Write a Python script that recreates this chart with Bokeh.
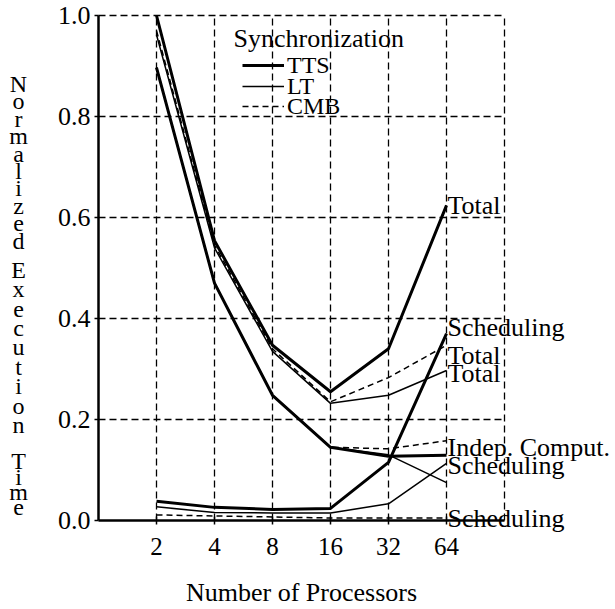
from bokeh.plotting import figure
from bokeh.models import (Range1d, FixedTicker, Label, Legend, LegendItem,
                          PrintfTickFormatter, BoxAnnotation)
from bokeh.embed import file_html
from bokeh.resources import INLINE

# ---------------- data ----------------
processors = ["2", "4", "8", "16", "32", "64"]

tts_total = [1.000, 0.554, 0.347, 0.255, 0.340, 0.624]
lt_total = [0.962, 0.540, 0.335, 0.232, 0.248, 0.297]
cmb_total = [0.970, 0.545, 0.340, 0.235, 0.283, 0.347]

tts_indep = [0.897, 0.470, 0.248, 0.145, 0.127, 0.129]
lt_indep = [0.897, 0.470, 0.248, 0.145, 0.130, 0.075]
cmb_indep = [0.897, 0.470, 0.248, 0.145, 0.142, 0.158]

tts_sched = [0.038, 0.026, 0.022, 0.024, 0.115, 0.370]
lt_sched = [0.027, 0.016, 0.015, 0.015, 0.033, 0.113]
cmb_sched = [0.011, 0.009, 0.007, 0.005, 0.005, 0.005]

y_ticks = [0.0, 0.2, 0.4, 0.6, 0.8, 1.0]
legend_labels = ["TTS", "LT", "CMB"]

FONT = "Liberation Serif"

# ---------------- layout (pixels) ----------------
W, H = 613, 607
X0_PX, X_UNIT = 98, 58.0      # pixel of x=0, pixels per category step
Y0_PX, Y_UNIT = 520, 505.0    # pixel (from top) of y=0, pixels per 1.0

x = list(range(1, len(processors) + 1))
x_max = len(processors) + 1
y_max = y_ticks[-1]

p = figure(width=W, height=H, output_backend="svg", toolbar_location=None,
           x_range=Range1d(-X0_PX / X_UNIT, (W - X0_PX) / X_UNIT),
           y_range=Range1d(-(H - Y0_PX) / Y_UNIT, Y0_PX / Y_UNIT),
           min_border=0)
p.outline_line_color = None
p.background_fill_color = "white"
p.border_fill_color = "white"

# grid
p.xgrid.ticker = FixedTicker(ticks=x + [x_max])
p.ygrid.ticker = FixedTicker(ticks=y_ticks[1:])
for g in (p.xgrid, p.ygrid):
    g.grid_line_color = "black"
    g.grid_line_dash = "7 4"
    g.grid_line_width = 1.3
    g.grid_line_alpha = 1.0

if "cross_bounds" in p.xgrid.properties():
    p.xgrid.cross_bounds = (0, y_max)
    p.ygrid.cross_bounds = (0, x_max)
else:
    eps_x = 1.5 / X_UNIT
    eps_y = 1.5 / Y_UNIT
    for kw in (dict(right=0), dict(left=x_max + eps_x), dict(top=0),
               dict(bottom=y_max + eps_y)):
        p.add_layout(BoxAnnotation(fill_color="white", fill_alpha=1.0,
                                   line_color=None, level="underlay", **kw))

# axes
p.xaxis.fixed_location = 0
p.yaxis.fixed_location = 0
p.xaxis.bounds = (0, x_max)
p.yaxis.bounds = (0, y_max)

p.xaxis.ticker = FixedTicker(ticks=x)
p.xaxis.major_label_overrides = {xi: lab for xi, lab in zip(x, processors)}
p.xaxis.axis_line_width = 2.5
p.xaxis.major_tick_in = 4
p.xaxis.major_tick_out = 4
p.xaxis.major_tick_line_width = 1.5
p.xaxis.minor_tick_line_color = None
p.xaxis.major_label_standoff = 13
p.xaxis.major_label_text_font_size = "25px"

p.yaxis.ticker = FixedTicker(ticks=y_ticks)
p.yaxis.formatter = PrintfTickFormatter(format="%.1f")
p.yaxis.axis_line_width = 2.5
p.yaxis.major_tick_in = 0
p.yaxis.major_tick_out = 4
p.yaxis.major_tick_line_width = 1.5
p.yaxis.minor_tick_line_color = None
p.yaxis.major_label_standoff = 4
p.yaxis.major_label_text_font_size = "26px"

for ax in (p.xaxis, p.yaxis):
    ax.axis_line_color = "black"
    ax.major_tick_line_color = "black"
    ax.major_label_text_font = FONT
    ax.major_label_text_color = "black"

# lines
styles = {
    "TTS": dict(line_width=3.0, line_color="black"),
    "LT": dict(line_width=1.5, line_color="black"),
    "CMB": dict(line_width=1.5, line_color="black", line_dash="6 4"),
}
series = {
    "TTS": (tts_total, tts_indep, tts_sched),
    "LT": (lt_total, lt_indep, lt_sched),
    "CMB": (cmb_total, cmb_indep, cmb_sched),
}
legend_renderers = {}
for name in ["CMB", "LT", "TTS"]:
    for k, ys in enumerate(series[name]):
        r = p.line(x, ys, **styles[name])
        if k == 0:
            legend_renderers[name] = r


def text_label(txt, px, py, size, align="left"):
    """Label placed by its vertical centre, in pixels from the top-left."""
    return Label(x=px, y=H - py, x_units="screen", y_units="screen", text=txt,
                 text_align=align, text_baseline="middle", text_font=FONT,
                 text_font_size=f"{size}px", text_color="black")


# legend: title + one single-item legend per entry (tight spacing)
p.add_layout(text_label("Synchronization", 233, 38, 26))
ITEM_H = 30
for name, cy in zip(legend_labels, [65, 86, 106]):
    lg = Legend(items=[LegendItem(label=name, renderers=[legend_renderers[name]])],
                location=(242, H - cy - ITEM_H / 2),
                label_text_font=FONT, label_text_font_size="24px",
                label_text_color="black",
                glyph_width=42, glyph_height=ITEM_H, label_height=ITEM_H,
                label_standoff=3, spacing=0, padding=0, margin=0,
                border_line_color=None, background_fill_alpha=0)
    p.add_layout(lg)

# right-hand line labels: (text, line end value, vertical pixel offset)
end_labels = [
    ("Total", tts_total[-1], 0),
    ("Scheduling", tts_sched[-1], 6),
    ("Total", cmb_total[-1], -10),
    ("Total", lt_total[-1], -3),
    ("Indep. Comput.", tts_indep[-1], 8),
    ("Scheduling", lt_sched[-1], -2),
    ("Scheduling", cmb_sched[-1], -1),
]
for txt, yv, off in end_labels:
    p.add_layout(Label(x=x[-1], y=yv, x_offset=1, y_offset=off, text=txt,
                       text_baseline="middle", text_align="left",
                       text_font=FONT, text_font_size="26px", text_color="black"))

# x-axis title
p.add_layout(Label(x=(0 + x_max) / 2, y=H - 592, x_units="data", y_units="screen",
                   text="Number of Processors", text_align="center",
                   text_baseline="middle", text_font=FONT,
                   text_font_size="26px", text_color="black"))

# stacked y-axis title (glyph baselines in pixels from the top)
LETTER_SIZE = 24
words = [
    ("Normalized", [91, 108, 126, 143, 161, 178, 195, 213, 230, 248]),
    ("Execution", [277, 296, 316, 335, 354, 374, 393, 413, 432]),
    ("Time", [468, 484, 499, 514]),
]
for word, bases in words:
    for ch, b in zip(word, bases):
        p.add_layout(text_label(ch, 18, b - 0.3 * LETTER_SIZE, LETTER_SIZE,
                                align="center"))

open("out.html", "w").write(file_html(p, INLINE))
